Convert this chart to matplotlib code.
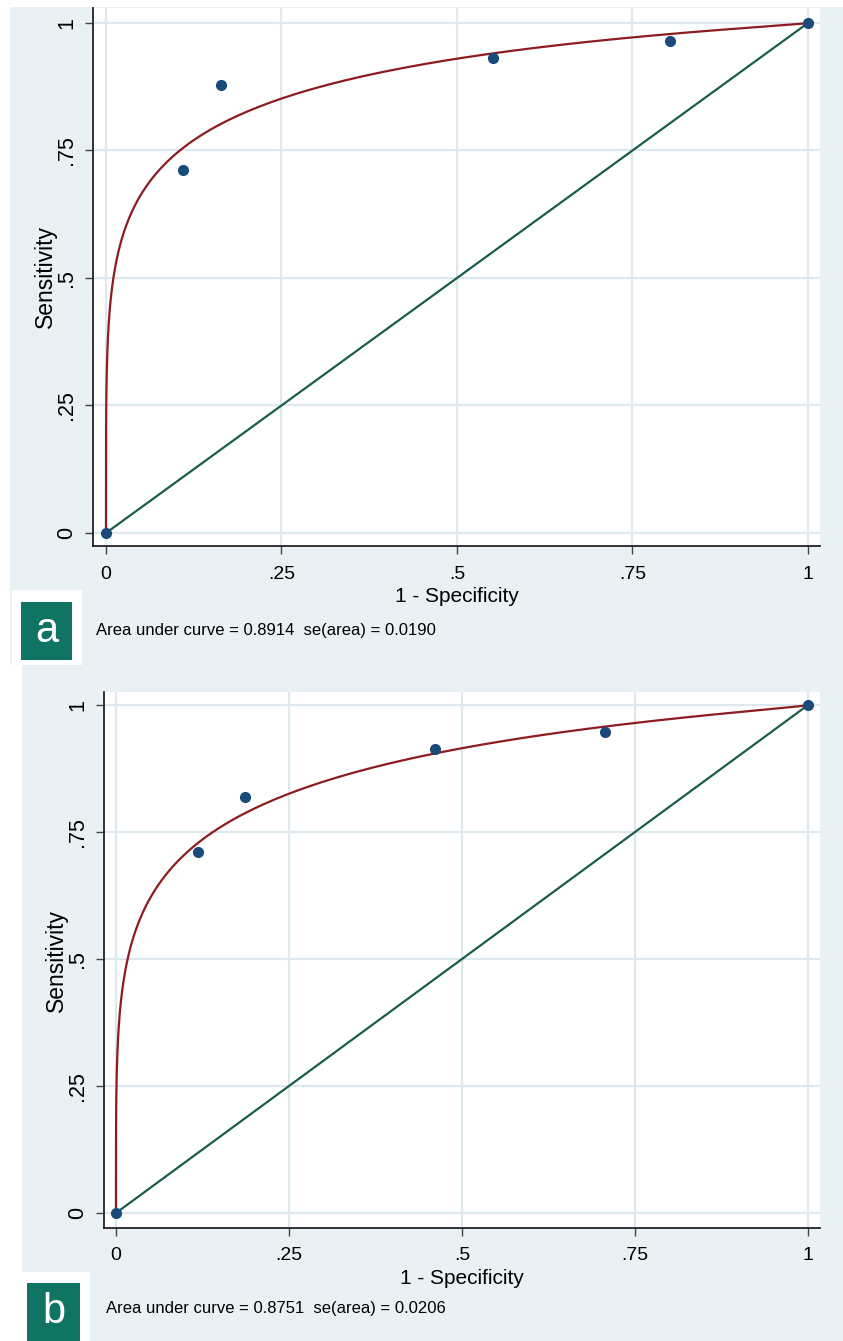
import math
import numpy as np
import matplotlib
matplotlib.use("Agg")
import matplotlib.pyplot as plt
from matplotlib.patches import Rectangle

plt.rcParams["font.family"] = ["Liberation Sans", "DejaVu Sans"]

# 经验 ROC 点 (1 - Specificity, Sensitivity)
fpr_a = [0.0, 0.11, 0.164, 0.552, 0.803, 1.0]
tpr_a = [0.0, 0.712, 0.878, 0.931, 0.964, 1.0]
fpr_b = [0.0, 0.118, 0.186, 0.461, 0.707, 1.0]
tpr_b = [0.0, 0.711, 0.819, 0.913, 0.947, 1.0]

# 双正态拟合参数 (a, b)
binormal_a = (1.476, 0.64)
binormal_b = (1.372, 0.646)

auc_text_a = "Area under curve = 0.8914  se(area) = 0.0190"
auc_text_b = "Area under curve = 0.8751  se(area) = 0.0206"

ticks = [0, 0.25, 0.5, 0.75, 1]
tick_labels = ["0", ".25", ".5", ".75", "1"]

BG = "#e9f1f4"
GRID = "#dde9ee"
RED = "#8c1c1f"
GREEN = "#1b5e47"
NAVY = "#1a4a7a"
TEAL = "#0f7462"

W, H = 843, 1341


def phi(z):
    return 0.5 * (1 + np.vectorize(math.erf)(z / math.sqrt(2)))


def px_rect(x0, y0, x1, y1):
    """像素坐标 (左上为原点) -> figure 坐标"""
    return [x0 / W, 1 - y1 / H, (x1 - x0) / W, (y1 - y0) / H]


fig = plt.figure(figsize=(W / 100, H / 100), dpi=100)

# 背景面板
for x0, y0, x1, y1, c in [
    (10, 7, 843, 665, BG),
    (12, 590, 82, 665, "white"),
    (22, 665, 843, 1341, BG),
    (22, 1272, 90, 1341, "white"),
]:
    l, b, w, h = px_rect(x0, y0, x1, y1)
    fig.add_artist(Rectangle((l, b), w, h, transform=fig.transFigure,
                             facecolor=c, edgecolor="none", zorder=-5))


def draw_panel(rect, xlim, ylim, fpr, tpr, params, xpad, label_box, letter,
               auc_pos, auc_text, xlabel_y, ylabel_x):
    ax = fig.add_axes(px_rect(*rect))
    ax.set_zorder(2)
    ax.set_facecolor("white")
    ax.set_xlim(*xlim)
    ax.set_ylim(*ylim)
    ax.set_xticks(ticks)
    ax.set_xticklabels(tick_labels, fontsize=14)
    ax.set_yticks(ticks)
    ax.set_yticklabels(tick_labels, rotation=90, va="center", fontsize=15.5)
    ax.grid(True, color=GRID, linewidth=1.6)
    ax.set_axisbelow(True)
    for s in ["top", "right"]:
        ax.spines[s].set_visible(False)
    for s in ["left", "bottom"]:
        ax.spines[s].set_color("#222222")
        ax.spines[s].set_linewidth(1.3)
    ax.tick_params(axis="both", length=5.5, width=1.0, color="#444444",
                   labelcolor="black")
    ax.tick_params(axis="x", pad=xpad)
    ax.tick_params(axis="y", pad=6)

    # 拟合曲线
    a, b = params
    u = np.linspace(-7, 7, 800)
    ax.plot(phi(u), phi(a + b * u), color=RED, linewidth=1.6, zorder=3)
    # 对角线
    ax.plot([0, 1], [0, 1], color=GREEN, linewidth=1.6, zorder=3)
    # 经验点
    ax.plot(fpr, tpr, "o", color=NAVY, markersize=7, zorder=4,
            clip_on=False)

    ax.set_xlabel("1 - Specificity", fontsize=15)
    ax.set_ylabel("Sensitivity", fontsize=16.5, va="center")
    x0, y0, x1, y1 = rect
    ax.xaxis.set_label_coords(0.5, (y1 - xlabel_y) / (y1 - y0))
    ax.yaxis.set_label_coords((ylabel_x - x0) / (x1 - x0), 0.5)
    ax.xaxis.label.set_va("center")

    # 标签方块
    l, bb, w, h = px_rect(*label_box)
    fig.add_artist(Rectangle((l, bb), w, h, transform=fig.transFigure,
                             facecolor=TEAL, edgecolor="none", zorder=1))
    fig.text(l + w / 2, bb + h / 2, letter, color="white", fontsize=30,
             ha="center", va="center")
    fig.text(auc_pos[0] / W, 1 - auc_pos[1] / H, auc_text, fontsize=12,
             ha="left", va="center")
    return ax


draw_panel((93, 8, 820, 546), (-0.0185, 1.0171), (-0.0255, 1.0294),
           fpr_a, tpr_a, binormal_a, 9, (21, 602, 72, 660), "a",
           (96, 630), auc_text_a, 597, 45)
draw_panel((104, 692, 820, 1228), (-0.0173, 1.0173), (-0.0295, 1.0256),
           fpr_b, tpr_b, binormal_b, 8, (27, 1283, 80, 1341), "b",
           (106, 1308), auc_text_b, 1279, 56)

fig.savefig("out.png", dpi=100)
